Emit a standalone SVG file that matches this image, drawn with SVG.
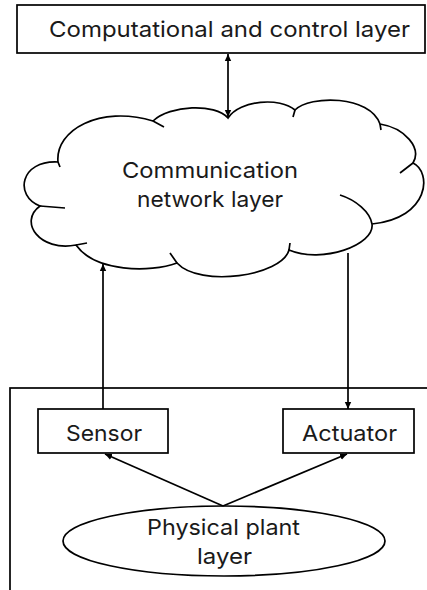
<svg xmlns="http://www.w3.org/2000/svg" width="427" height="590" viewBox="0 0 427 590">
<defs>
<marker id="ah" markerWidth="8" markerHeight="8" refX="7" refY="4" orient="auto-start-reverse" markerUnits="userSpaceOnUse">
<path d="M0,0.8 L7,4 L0,7.2 Z" fill="#000"/>
</marker>
<style>
.box{fill:#fff;stroke:#000;stroke-width:1.7}
.ln{fill:none;stroke:#000;stroke-width:1.7}
.t{font-family:"Inter","Liberation Sans",sans-serif;font-size:22px;fill:#1a1a1a}
</style>
</defs>
<rect width="427" height="590" fill="#fff"/>
<g id="plant-frame">
<rect class="box" x="10" y="388" width="430" height="220"/>
</g>
<g id="control">
<rect class="box" x="17" y="5" width="408" height="48"/>
<text class="t" x="49" y="37" textLength="361" lengthAdjust="spacingAndGlyphs">Computational and control layer</text>
</g>
<g id="cloud">
<path class="box" d="M58,162 C55,130 100,105 153,121 C170,105 215,103 228,118 C240,100 280,97 295,110 C310,95 370,95 380,124 C405,128 422,148 413,163 C432,172 430,218 372,224 C375,245 322,264 289,250 C282,276 200,288 177,263 C150,273 95,272 76,245 C40,252 18,222 40,206 C14,196 20,160 58,162 Z"/>
<path class="ln" d="M153,121 L164,127 M380,124 L381,130 M413,163 L400,173 M340,195 C356,200 370,212 372,224 M289,250 L290,243 M177,263 L170,253 M76,245 L87,243 M40,206 L65,208 M58,162 L60,167 M295,110 L293,117"/>
<text class="t" x="122" y="178" textLength="176" lengthAdjust="spacingAndGlyphs">Communication</text>
<text class="t" x="137" y="207" textLength="146" lengthAdjust="spacingAndGlyphs">network layer</text>
</g>
<g id="sensor">
<rect class="box" x="38" y="409" width="130" height="44"/>
<text class="t" x="66" y="441" textLength="76" lengthAdjust="spacingAndGlyphs">Sensor</text>
</g>
<g id="actuator">
<rect class="box" x="283" y="409" width="131" height="44"/>
<text class="t" x="302" y="441" textLength="95" lengthAdjust="spacingAndGlyphs">Actuator</text>
</g>
<g id="physical-plant">
<ellipse class="box" cx="224" cy="541" rx="161" ry="35"/>
<text class="t" x="147" y="535" textLength="153" lengthAdjust="spacingAndGlyphs">Physical plant</text>
<text class="t" x="197" y="564" textLength="55" lengthAdjust="spacingAndGlyphs">layer</text>
</g>
<g id="connectors">
<line class="ln" x1="228" y1="54" x2="228" y2="117" marker-start="url(#ah)" marker-end="url(#ah)"/>
<line class="ln" x1="103" y1="409" x2="103" y2="264" marker-end="url(#ah)"/>
<line class="ln" x1="348" y1="253" x2="348" y2="409" marker-end="url(#ah)"/>
<line class="ln" x1="223" y1="506" x2="105" y2="454" marker-end="url(#ah)"/>
<line class="ln" x1="223" y1="506" x2="347" y2="454" marker-end="url(#ah)"/>
</g>
</svg>
